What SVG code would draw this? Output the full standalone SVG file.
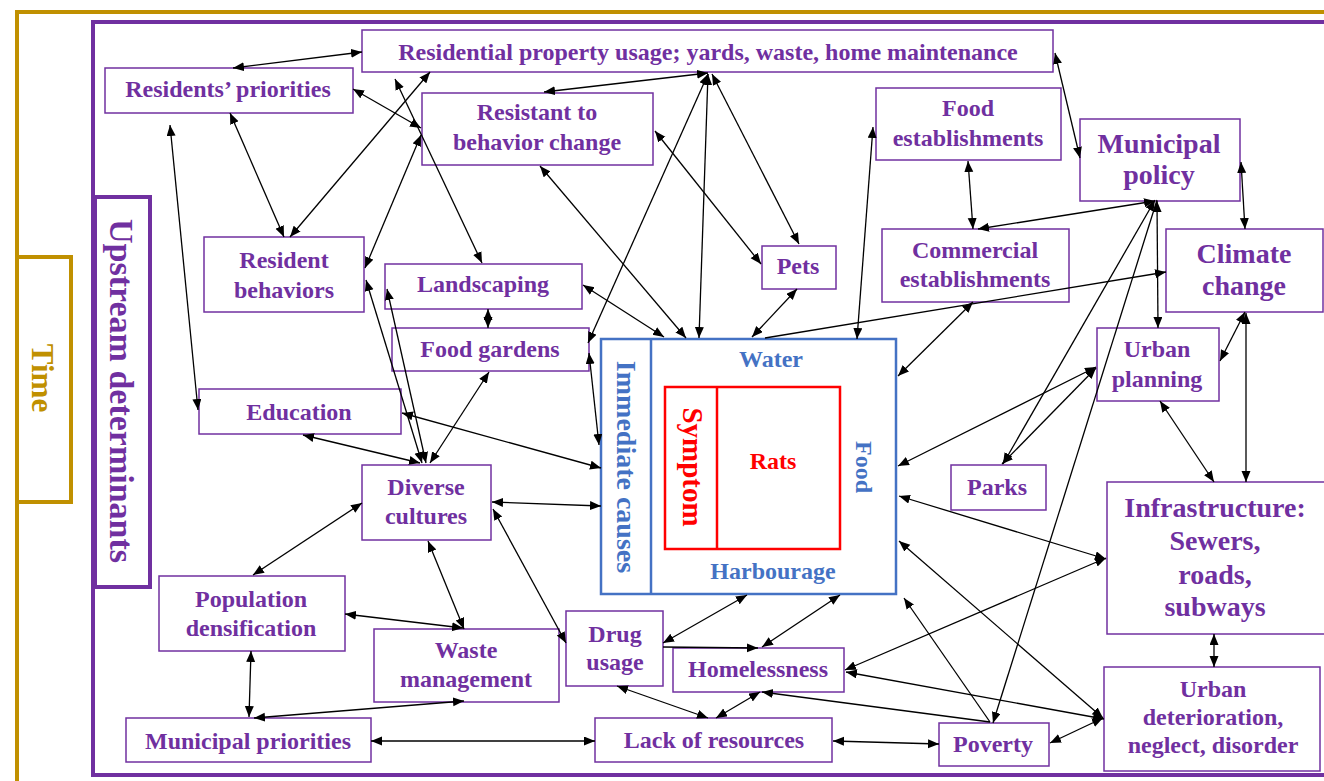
<svg xmlns="http://www.w3.org/2000/svg" width="1324" height="781" viewBox="0 0 1324 781">
<defs>
<marker id="ah" markerUnits="userSpaceOnUse" markerWidth="12" markerHeight="10" refX="11" refY="4.5" orient="auto-start-reverse" viewBox="0 0 12 10">
<path d="M0,0 L11,4.5 L0,9 z" fill="#000"/>
</marker>
<style>
.t{font-family:"Liberation Serif","Times New Roman",serif;font-weight:bold;font-size:24px;fill:#7030A0;text-anchor:middle}
.big{font-size:28px}
.box{fill:#fff;stroke:#7030A0;stroke-width:1.5}
.gold{fill:none;stroke:#C09000;stroke-width:4}
.frame{fill:none;stroke:#7030A0;stroke-width:4}
.blue{fill:none;stroke:#4472C4;stroke-width:2.5}
.red{fill:none;stroke:#FF0000;stroke-width:2.5}
.bt{fill:#4472C4}
.rt{fill:#FF0000}
.c line{stroke:#000;stroke-width:1.3;fill:none}
.bi{marker-start:url(#ah);marker-end:url(#ah)}
.en{marker-end:url(#ah)}
</style>
</defs>
<rect width="1324" height="781" fill="#fff"/>
<g id="time-frame">
<rect class="gold" x="17" y="12" width="1400" height="820"/>
<rect class="gold" x="17" y="257" width="54" height="245"/>
<text class="t" style="fill:#C09000;font-size:31px" transform="translate(32,378) rotate(90)">Time</text>
</g>
<g id="upstream-frame">
<rect class="frame" x="93" y="22" width="1300" height="753"/>
<rect class="frame" x="95" y="197" width="55" height="390"/>
<text class="t" style="font-size:34px" transform="translate(110,391) rotate(90)">Upstream determinants</text>
</g>
<g id="immediate-causes">
<rect x="601" y="339" width="295" height="255" fill="none" class="blue"/>
<line x1="651" y1="339" x2="651" y2="594" class="blue"/>
<text class="t bt big" transform="translate(617,467) rotate(90)">Immediate causes</text>
<text class="t bt" x="771" y="367">Water</text>
<text class="t bt" x="773" y="579">Harbourage</text>
<text class="t bt" transform="translate(856,467) rotate(90)">Food</text>
</g>
<g id="symptom">
<rect x="665" y="387" width="175" height="162" class="red"/>
<line x1="717" y1="387" x2="717" y2="549" class="red"/>
<text class="t rt" style="font-size:29px" transform="translate(683,467) rotate(90)">Symptom</text>
<text class="t rt" x="773" y="469">Rats</text>
</g>
<g id="residential-property"><rect class="box" x="362" y="30" width="691" height="42"/><text class="t" x="708" y="60">Residential property usage; yards, waste, home maintenance</text></g>
<g id="residents-priorities"><rect class="box" x="105" y="68" width="248" height="45"/><text class="t" x="228" y="97">Residents’ priorities</text></g>
<g id="resistant"><rect class="box" x="422" y="93" width="231" height="72"/><text class="t" x="537" y="120">Resistant to</text><text class="t" x="537" y="150">behavior change</text></g>
<g id="food-establishments"><rect class="box" x="876" y="88" width="185" height="72"/><text class="t" x="968" y="116">Food</text><text class="t" x="968" y="146">establishments</text></g>
<g id="municipal-policy"><rect class="box" x="1080" y="119" width="160" height="82"/><text class="t big" x="1159" y="153">Municipal</text><text class="t big" x="1159" y="184">policy</text></g>
<g id="commercial"><rect class="box" x="882" y="229" width="187" height="73"/><text class="t" x="975" y="258">Commercial</text><text class="t" x="975" y="287">establishments</text></g>
<g id="climate-change"><rect class="box" x="1166" y="229" width="157" height="83"/><text class="t big" x="1244" y="263">Climate</text><text class="t big" x="1244" y="295">change</text></g>
<g id="resident-behaviors"><rect class="box" x="204" y="237" width="160" height="75"/><text class="t" x="284" y="268">Resident</text><text class="t" x="284" y="298">behaviors</text></g>
<g id="landscaping"><rect class="box" x="385" y="264" width="197" height="45"/><text class="t" x="483" y="292">Landscaping</text></g>
<g id="pets"><rect class="box" x="762" y="246" width="74" height="43"/><text class="t" x="798" y="274">Pets</text></g>
<g id="food-gardens"><rect class="box" x="392" y="328" width="197" height="43"/><text class="t" x="490" y="357">Food gardens</text></g>
<g id="education"><rect class="box" x="199" y="389" width="202" height="45"/><text class="t" x="299" y="420">Education</text></g>
<g id="diverse-cultures"><rect class="box" x="362" y="465" width="129" height="75"/><text class="t" x="426" y="495">Diverse</text><text class="t" x="426" y="524">cultures</text></g>
<g id="urban-planning"><rect class="box" x="1097" y="328" width="122" height="73"/><text class="t" x="1157" y="357">Urban</text><text class="t" x="1157" y="387">planning</text></g>
<g id="parks"><rect class="box" x="951" y="465" width="95" height="45"/><text class="t" x="997" y="495">Parks</text></g>
<g id="infrastructure"><rect class="box" x="1107" y="482" width="222" height="152"/><text class="t big" x="1215" y="517">Infrastructure:</text><text class="t big" x="1215" y="550">Sewers,</text><text class="t big" x="1215" y="584">roads,</text><text class="t big" x="1215" y="616">subways</text></g>
<g id="population-densification"><rect class="box" x="159" y="576" width="186" height="75"/><text class="t" x="251" y="607">Population</text><text class="t" x="251" y="636">densification</text></g>
<g id="waste-management"><rect class="box" x="374" y="629" width="185" height="73"/><text class="t" x="466" y="658">Waste</text><text class="t" x="466" y="687">management</text></g>
<g id="drug-usage"><rect class="box" x="566" y="611" width="97" height="75"/><text class="t" x="615" y="642">Drug</text><text class="t" x="615" y="670">usage</text></g>
<g id="homelessness"><rect class="box" x="673" y="648" width="171" height="44"/><text class="t" x="758" y="677">Homelessness</text></g>
<g id="municipal-priorities"><rect class="box" x="126" y="718" width="245" height="44"/><text class="t" x="248" y="749">Municipal priorities</text></g>
<g id="lack-of-resources"><rect class="box" x="595" y="718" width="237" height="44"/><text class="t" x="714" y="748">Lack of resources</text></g>
<g id="poverty"><rect class="box" x="939" y="723" width="110" height="43"/><text class="t" x="993" y="752">Poverty</text></g>
<g id="urban-deterioration"><rect class="box" x="1104" y="667" width="216" height="104"/><text class="t" x="1213" y="697">Urban</text><text class="t" x="1213" y="725">deterioration,</text><text class="t" x="1213" y="753">neglect, disorder</text></g>
<g class="c" id="connectors">
<line class="bi" x1="233" y1="68" x2="362" y2="52"/>
<line class="bi" x1="353" y1="89" x2="421" y2="128"/>
<line class="bi" x1="230" y1="113" x2="284" y2="237"/>
<line class="bi" x1="290" y1="237" x2="430" y2="72"/>
<line class="bi" x1="170" y1="125" x2="198" y2="410"/>
<line class="bi" x1="395" y1="79" x2="482" y2="263"/>
<line class="bi" x1="421" y1="135" x2="365" y2="268"/>
<line class="bi" x1="366" y1="280" x2="422" y2="463"/>
<line class="bi" x1="387" y1="289" x2="426" y2="463"/>
<line class="bi" x1="402" y1="413" x2="601" y2="468"/>
<line class="bi" x1="303" y1="435" x2="420" y2="463"/>
<line class="bi" x1="489" y1="372" x2="430" y2="463"/>
<line class="bi" x1="488" y1="309" x2="488" y2="328"/>
<line class="bi" x1="492" y1="502" x2="601" y2="506"/>
<line class="bi" x1="493" y1="509" x2="566" y2="643"/>
<line class="bi" x1="428" y1="541" x2="464" y2="629"/>
<line class="bi" x1="253" y1="575" x2="362" y2="503"/>
<line class="bi" x1="345" y1="614" x2="463" y2="628"/>
<line class="bi" x1="251" y1="651" x2="249" y2="717"/>
<line class="bi" x1="254" y1="718" x2="464" y2="701"/>
<line class="bi" x1="371" y1="741" x2="595" y2="741"/>
<line class="bi" x1="617" y1="686" x2="708" y2="718"/>
<line class="bi" x1="760" y1="692" x2="716" y2="718"/>
<line class="bi" x1="833" y1="741" x2="939" y2="744"/>
<line class="bi" x1="663" y1="643" x2="747" y2="595"/>
<line class="en" x1="663" y1="647" x2="758" y2="648"/>
<line class="bi" x1="762" y1="647" x2="840" y2="595"/>
<line class="bi" x1="845" y1="670" x2="1106" y2="558"/>
<line class="bi" x1="846" y1="672" x2="1104" y2="719"/>
<line class="en" x1="990" y1="722" x2="762" y2="692"/>
<line class="bi" x1="1050" y1="743" x2="1103" y2="718"/>
<line class="bi" x1="1214" y1="634" x2="1214" y2="667"/>
<line class="bi" x1="899" y1="541" x2="1103" y2="718"/>
<line class="bi" x1="899" y1="496" x2="1106" y2="559"/>
<line class="bi" x1="898" y1="466" x2="1096" y2="367"/>
<line class="bi" x1="1002" y1="464" x2="1096" y2="368"/>
<line class="bi" x1="1003" y1="464" x2="1155" y2="200"/>
<line class="en" x1="1157" y1="200" x2="993" y2="723"/>
<line class="bi" x1="1157" y1="201" x2="1158" y2="328"/>
<line class="bi" x1="1155" y1="201" x2="978" y2="229"/>
<line class="bi" x1="968" y1="161" x2="973" y2="229"/>
<line class="bi" x1="1055" y1="53" x2="1080" y2="158"/>
<line class="bi" x1="1241" y1="162" x2="1245" y2="229"/>
<line class="en" x1="765" y1="338" x2="1166" y2="272"/>
<line class="bi" x1="797" y1="289" x2="752" y2="337"/>
<line class="bi" x1="973" y1="302" x2="898" y2="376"/>
<line class="bi" x1="1245" y1="312" x2="1220" y2="361"/>
<line class="bi" x1="1246" y1="313" x2="1246" y2="482"/>
<line class="bi" x1="1160" y1="401" x2="1214" y2="482"/>
<line class="bi" x1="873" y1="127" x2="857" y2="339"/>
<line class="bi" x1="708" y1="73" x2="544" y2="92"/>
<line class="bi" x1="708" y1="74" x2="588" y2="343"/>
<line class="bi" x1="708" y1="74" x2="699" y2="338"/>
<line class="bi" x1="712" y1="74" x2="799" y2="244"/>
<line class="bi" x1="655" y1="131" x2="761" y2="264"/>
<line class="bi" x1="540" y1="166" x2="686" y2="338"/>
<line class="bi" x1="583" y1="285" x2="664" y2="337"/>
<line class="bi" x1="589" y1="353" x2="599" y2="445"/>
<line class="en" x1="990" y1="722" x2="904" y2="598"/>
</g>
</svg>
